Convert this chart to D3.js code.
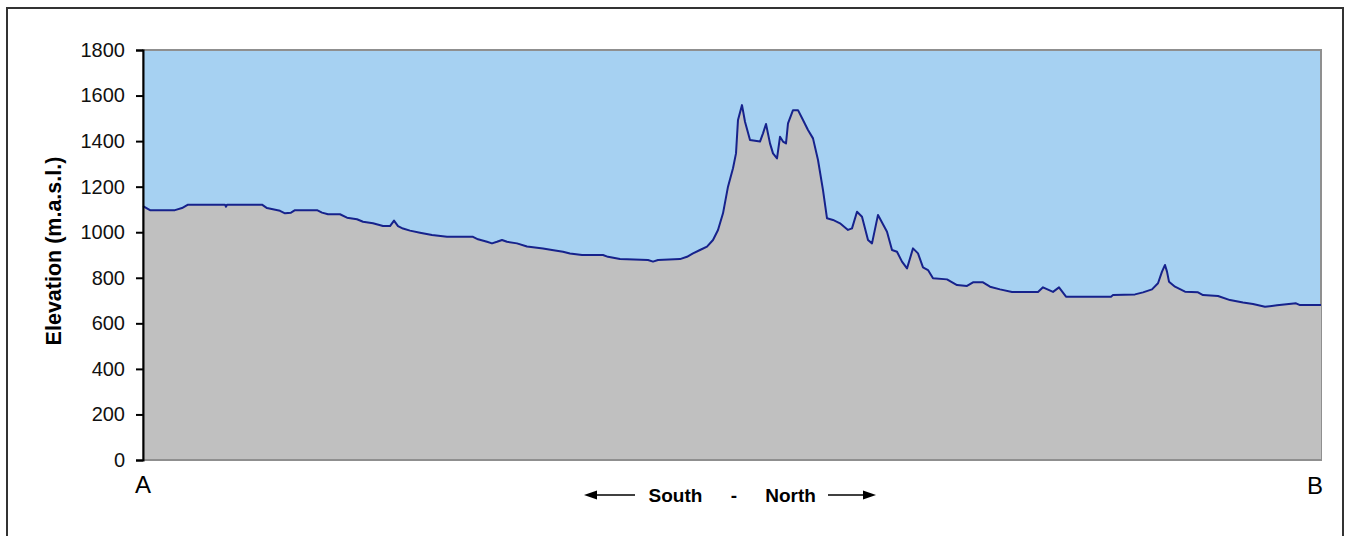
<!DOCTYPE html>
<html><head><meta charset="utf-8">
<script src="https://cdn.jsdelivr.net/npm/d3@7/dist/d3.min.js"></script>
<style>html,body{margin:0;padding:0;background:#fff;}svg{display:block;}</style>
</head><body>
<svg id="c" width="1346" height="536"></svg>
<script>
// distance along profile (km, estimated) and elevation (m a.s.l.)
const distance = [0,0.35,1.6,1.95,2.25,4.1,4.15,4.2,5.95,6.2,6.85,7.1,7.4,7.6,8.7,8.95,9.25,9.85,10.2,10.7,11.0,11.5,12.0,12.35,12.55,12.75,13.0,13.35,13.85,14.45,15.2,16.5,16.75,17.2,17.45,17.7,17.95,18.2,18.7,19.2,20.0,20.45,21.0,21.35,21.95,23.0,23.25,23.85,25.25,25.5,25.75,26.85,27.2,27.5,27.85,28.2,28.5,28.75,29.0,29.25,29.5,29.65,29.75,29.95,30.1,30.35,30.85,31.0,31.15,31.35,31.5,31.7,31.85,32.0,32.15,32.25,32.5,32.75,33.0,33.25,33.5,33.75,34.0,34.2,34.5,34.85,35.25,35.45,35.7,35.95,36.25,36.45,36.75,37.2,37.45,37.7,37.95,38.2,38.5,38.75,39.0,39.25,39.5,40.2,40.7,41.2,41.5,42.0,42.35,42.85,43.45,44.75,45.0,45.5,45.8,46.15,48.4,48.5,49.6,50.0,50.45,50.75,50.95,51.1,51.2,51.3,51.6,52.1,52.75,53.0,53.75,54.35,55.0,55.5,56.1,56.7,57.65,57.85,58.9];
const elevation = [1115,1097,1097,1106,1121,1121,1112,1121,1121,1106,1094,1083,1086,1097,1097,1086,1079,1079,1064,1057,1046,1039,1027,1027,1051,1027,1016,1007,998,988,980,980,969,958,951,958,966,958,951,937,929,922,914,907,900,900,892,882,878,871,878,882,892,907,922,937,966,1010,1083,1200,1281,1346,1493,1558,1485,1405,1398,1434,1475,1390,1346,1324,1419,1398,1390,1478,1536,1536,1493,1449,1412,1317,1185,1061,1054,1039,1010,1017,1090,1068,966,951,1076,1002,922,914,871,841,929,907,846,834,798,793,768,764,780,780,761,749,738,738,758,738,758,717,717,724,727,736,749,776,827,856,827,783,761,739,736,724,720,702,691,685,673,679,688,680,680];
const yTicks = [0,200,400,600,800,1000,1200,1400,1600,1800];
const yTitle = "Elevation (m.a.s.l.)";
const startLabel = "A", endLabel = "B";
const dirLabels = ["South", "-", "North"];

const data = distance.map((d,i)=>({d, e: elevation[i]}));
const svg = d3.select("#c");
const L=143, R=1321, T=50, B=460;
const x = d3.scaleLinear().domain([0, d3.max(distance)]).range([L, R]);
const y = d3.scaleLinear().domain([0, 1800]).range([B, T]);
const font = "'Liberation Sans', Arial, sans-serif";

// outer frame
svg.append("rect").attr("x",7).attr("y",8).attr("width",1336).attr("height",540)
  .attr("fill","#fff").attr("stroke","#333").attr("stroke-width",2);

// plot background (sky)
svg.append("rect").attr("x",L).attr("y",T).attr("width",R-L).attr("height",B-T)
  .attr("fill","#a6d1f2").attr("stroke","#8f8f8f").attr("stroke-width",2);

// terrain area
svg.append("path").datum(data)
  .attr("fill","#c0c0c0")
  .attr("d", d3.area().x(p=>x(p.d)).y0(y(0)).y1(p=>y(p.e)));
svg.append("path").datum(data)
  .attr("fill","none").attr("stroke","#16228c").attr("stroke-width",2)
  .attr("stroke-linejoin","round")
  .attr("d", d3.line().x(p=>x(p.d)).y(p=>y(p.e)));

// bottom edge redraw
svg.append("line").attr("x1",L).attr("x2",R).attr("y1",B).attr("y2",B)
  .attr("stroke","#8f8f8f").attr("stroke-width",2);

// y axis
const ax = svg.append("g").attr("transform",`translate(${L},0)`)
  .call(d3.axisLeft(y).tickValues(yTicks).tickSize(7).tickPadding(11).tickFormat(d3.format("d")));
ax.select(".domain").attr("stroke","#000").attr("stroke-width",2);
ax.selectAll(".tick line").attr("stroke","#000").attr("stroke-width",2);
ax.selectAll(".tick text").attr("font-family",font).attr("font-size","20px").attr("fill","#111");

// y title
svg.append("text").attr("transform","translate(61,251) rotate(-90)")
  .attr("text-anchor","middle").attr("font-family",font).attr("font-weight","bold")
  .attr("font-size","21.5px").attr("fill","#000").text(yTitle);

// A / B
svg.append("text").attr("x",x(0)).attr("y",493).attr("text-anchor","middle")
  .attr("font-family",font).attr("font-size","24px").attr("fill","#000").text(startLabel);
svg.append("text").attr("x",x(d3.max(distance))-6).attr("y",494).attr("text-anchor","middle")
  .attr("font-family",font).attr("font-size","24px").attr("fill","#000").text(endLabel);

// South - North
const dirX = [675.5, 734, 790.5];
dirLabels.forEach((t,i)=>{
  svg.append("text").attr("x",dirX[i]).attr("y",502).attr("text-anchor","middle")
    .attr("font-family",font).attr("font-weight","bold").attr("font-size","19px")
    .attr("fill","#000").text(t);
});
// arrows
svg.append("line").attr("x1",592).attr("x2",635).attr("y1",495).attr("y2",495).attr("stroke","#000").attr("stroke-width",1.5);
svg.append("path").attr("d","M584,495 L597,490.5 L597,499.5 Z").attr("fill","#000");
svg.append("line").attr("x1",828).attr("x2",868).attr("y1",495).attr("y2",495).attr("stroke","#000").attr("stroke-width",1.5);
svg.append("path").attr("d","M876,495 L863,490.5 L863,499.5 Z").attr("fill","#000");
</script>
</body></html>
